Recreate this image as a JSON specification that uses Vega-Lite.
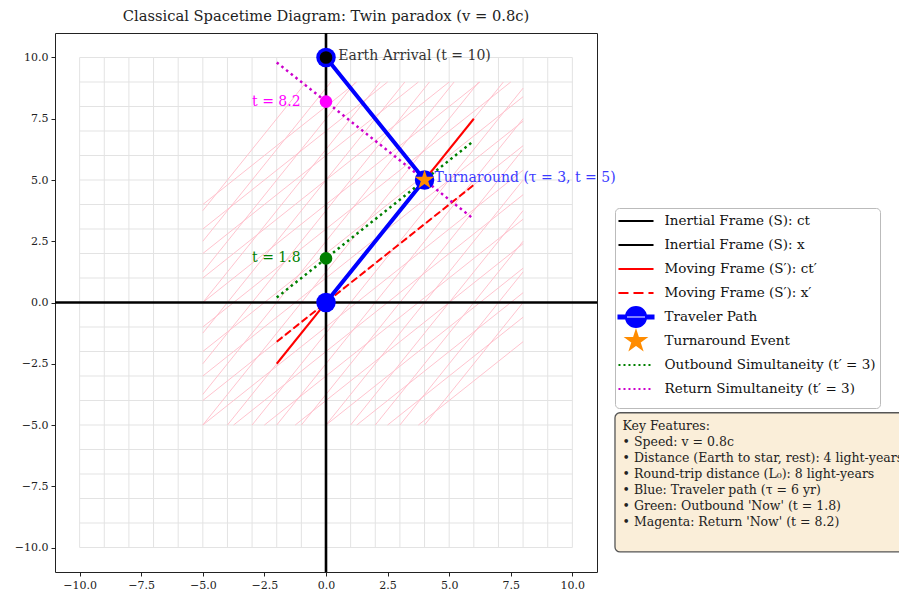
{
  "$schema": "https://vega.github.io/schema/vega-lite/v6.json",
  "width": 542,
  "height": 539,
  "autosize": {"type": "none"},
  "padding": {"left": 55, "top": 33, "right": 302, "bottom": 22},
  "background": "white",
  "config": {
    "view": {"stroke": "#222222", "strokeWidth": 1},
    "font": "DejaVu Serif"
  },
  "title": {
    "text": "Classical Spacetime Diagram: Twin paradox (v = 0.8c)",
    "font": "DejaVu Serif",
    "fontSize": 14.7,
    "fontWeight": "normal",
    "color": "#222222",
    "offset": 8
  },
  "datasets": {
    "grid": [
      {"x": -10, "y": -10, "x2": -10, "y2": 10}, {"x": -9, "y": -10, "x2": -9, "y2": 10},
      {"x": -8, "y": -10, "x2": -8, "y2": 10}, {"x": -7, "y": -10, "x2": -7, "y2": 10},
      {"x": -6, "y": -10, "x2": -6, "y2": 10}, {"x": -5, "y": -10, "x2": -5, "y2": 10},
      {"x": -4, "y": -10, "x2": -4, "y2": 10}, {"x": -3, "y": -10, "x2": -3, "y2": 10},
      {"x": -2, "y": -10, "x2": -2, "y2": 10}, {"x": -1, "y": -10, "x2": -1, "y2": 10},
      {"x": 0, "y": -10, "x2": 0, "y2": 10}, {"x": 1, "y": -10, "x2": 1, "y2": 10},
      {"x": 2, "y": -10, "x2": 2, "y2": 10}, {"x": 3, "y": -10, "x2": 3, "y2": 10},
      {"x": 4, "y": -10, "x2": 4, "y2": 10}, {"x": 5, "y": -10, "x2": 5, "y2": 10},
      {"x": 6, "y": -10, "x2": 6, "y2": 10}, {"x": 7, "y": -10, "x2": 7, "y2": 10},
      {"x": 8, "y": -10, "x2": 8, "y2": 10}, {"x": 9, "y": -10, "x2": 9, "y2": 10},
      {"x": 10, "y": -10, "x2": 10, "y2": 10},
      {"x": -10, "y": -10, "x2": 10, "y2": -10}, {"x": -10, "y": -9, "x2": 10, "y2": -9},
      {"x": -10, "y": -8, "x2": 10, "y2": -8}, {"x": -10, "y": -7, "x2": 10, "y2": -7},
      {"x": -10, "y": -6, "x2": 10, "y2": -6}, {"x": -10, "y": -5, "x2": 10, "y2": -5},
      {"x": -10, "y": -4, "x2": 10, "y2": -4}, {"x": -10, "y": -3, "x2": 10, "y2": -3},
      {"x": -10, "y": -2, "x2": 10, "y2": -2}, {"x": -10, "y": -1, "x2": 10, "y2": -1},
      {"x": -10, "y": 0, "x2": 10, "y2": 0}, {"x": -10, "y": 1, "x2": 10, "y2": 1},
      {"x": -10, "y": 2, "x2": 10, "y2": 2}, {"x": -10, "y": 3, "x2": 10, "y2": 3},
      {"x": -10, "y": 4, "x2": 10, "y2": 4}, {"x": -10, "y": 5, "x2": 10, "y2": 5},
      {"x": -10, "y": 6, "x2": 10, "y2": 6}, {"x": -10, "y": 7, "x2": 10, "y2": 7},
      {"x": -10, "y": 8, "x2": 10, "y2": 8}, {"x": -10, "y": 9, "x2": 10, "y2": 9},
      {"x": -10, "y": 10, "x2": 10, "y2": 10}
    ],
    "pink": [
      {"x": -5, "y": 3.75, "x2": -0.8, "y2": 9},
      {"x": -5, "y": 2.5, "x2": 0.2, "y2": 9},
      {"x": -5, "y": 1.25, "x2": 1.2, "y2": 9},
      {"x": -5, "y": 0, "x2": 2.2, "y2": 9},
      {"x": -5, "y": -1.25, "x2": 3.2, "y2": 9},
      {"x": -5, "y": -2.5, "x2": 4.2, "y2": 9},
      {"x": -5, "y": -3.75, "x2": 5.2, "y2": 9},
      {"x": -5, "y": -5, "x2": 6.2, "y2": 9},
      {"x": -4, "y": -5, "x2": 7.2, "y2": 9},
      {"x": -3, "y": -5, "x2": 8, "y2": 8.75},
      {"x": -2, "y": -5, "x2": 8, "y2": 7.5},
      {"x": -1, "y": -5, "x2": 8, "y2": 6.25},
      {"x": 0, "y": -5, "x2": 8, "y2": 5},
      {"x": 1, "y": -5, "x2": 8, "y2": 3.75},
      {"x": 2, "y": -5, "x2": 8, "y2": 2.5},
      {"x": 3, "y": -5, "x2": 8, "y2": 1.25},
      {"x": 4, "y": -5, "x2": 8, "y2": 0},
      {"x": -5, "y": 4, "x2": 1.25, "y2": 9},
      {"x": -5, "y": 3, "x2": 2.5, "y2": 9},
      {"x": -5, "y": 2, "x2": 3.75, "y2": 9},
      {"x": -5, "y": 1, "x2": 5, "y2": 9},
      {"x": -5, "y": 0, "x2": 6.25, "y2": 9},
      {"x": -5, "y": -1, "x2": 7.5, "y2": 9},
      {"x": -5, "y": -2, "x2": 8, "y2": 8.4},
      {"x": -5, "y": -3, "x2": 8, "y2": 7.4},
      {"x": -5, "y": -4, "x2": 8, "y2": 6.4},
      {"x": -5, "y": -5, "x2": 8, "y2": 5.4},
      {"x": -3.75, "y": -5, "x2": 8, "y2": 4.4},
      {"x": -2.5, "y": -5, "x2": 8, "y2": 3.4},
      {"x": -1.25, "y": -5, "x2": 8, "y2": 2.4},
      {"x": 0, "y": -5, "x2": 8, "y2": 1.4},
      {"x": 1.25, "y": -5, "x2": 8, "y2": 0.4},
      {"x": 2.5, "y": -5, "x2": 8, "y2": -0.6},
      {"x": 3.75, "y": -5, "x2": 8, "y2": -1.6}
    ],
    "segments": [
      {"name": "x_axis", "x": -11, "y": 0, "x2": 11, "y2": 0},
      {"name": "t_axis", "x": 0, "y": -11, "x2": 0, "y2": 11},
      {"name": "ct_prime", "x": -2, "y": -2.5, "x2": 6, "y2": 7.5},
      {"name": "x_prime", "x": -2, "y": -1.6, "x2": 6, "y2": 4.8},
      {"name": "outbound", "x": -2, "y": 0.2, "x2": 6, "y2": 6.6},
      {"name": "return", "x": -2, "y": 9.8, "x2": 6, "y2": 3.4}
    ],
    "path": [
      {"step": 0, "x": 0, "y": 0},
      {"step": 1, "x": 4, "y": 5},
      {"step": 2, "x": 0, "y": 10}
    ],
    "now": [
      {"name": "outbound", "x": 0, "y": 1.8},
      {"name": "return", "x": 0, "y": 8.2}
    ],
    "notes": [
      {"name": "earth", "x": 0.5, "y": 10, "label": "Earth Arrival (t = 10)"},
      {"name": "turn", "x": 4.4, "y": 5, "label": "Turnaround (τ = 3, t = 5)"},
      {"name": "t82", "x": -3, "y": 8.2, "label": "t = 8.2"},
      {"name": "t18", "x": -3, "y": 1.8, "label": "t = 1.8"}
    ],
    "keybox": [
      {"x": 11.73, "y": -4.5, "x2": 24, "y2": -10.18}
    ],
    "keytext": [
      {"x": 12.04, "y": -4.78}
    ]
  },
  "encoding": {
    "x": {
      "field": "x", "type": "quantitative",
      "scale": {"domain": [-11, 11], "nice": false, "zero": false},
      "axis": {"values": [-10, -7.5, -5, -2.5, 0, 2.5, 5, 7.5, 10], "format": ".1f", "title": null, "grid": false, "domain": false, "tickColor": "#222222", "tickSize": 4, "labelFont": "DejaVu Serif", "labelFontSize": 11, "labelColor": "#222222", "labelPadding": 3}
    },
    "y": {
      "field": "y", "type": "quantitative",
      "scale": {"domain": [-11, 11], "nice": false, "zero": false},
      "axis": {"values": [-10, -7.5, -5, -2.5, 0, 2.5, 5, 7.5, 10], "format": ".1f", "title": null, "grid": false, "domain": false, "tickColor": "#222222", "tickSize": 4, "labelFont": "DejaVu Serif", "labelFontSize": 11, "labelColor": "#222222", "labelPadding": 3}
    }
  },
  "layer": [
    {
      "data": {"name": "grid"},
      "mark": {"type": "rule", "color": "#e3e3e3", "strokeWidth": 1},
      "encoding": {"x2": {"field": "x2"}, "y2": {"field": "y2"}}
    },
    {
      "data": {"name": "pink"},
      "mark": {"type": "rule", "color": "#ffc0cb", "strokeWidth": 1, "opacity": 0.95},
      "encoding": {"x2": {"field": "x2"}, "y2": {"field": "y2"}}
    },
    {
      "data": {"name": "segments"},
      "transform": [{"filter": "datum.name === 'x_axis' || datum.name === 't_axis'"}],
      "mark": {"type": "rule", "color": "#000000", "strokeWidth": 2.6},
      "encoding": {"x2": {"field": "x2"}, "y2": {"field": "y2"}}
    },
    {
      "data": {"name": "segments"},
      "transform": [{"filter": "datum.name === 'ct_prime'"}],
      "mark": {"type": "rule", "color": "#ff0000", "strokeWidth": 2},
      "encoding": {"x2": {"field": "x2"}, "y2": {"field": "y2"}}
    },
    {
      "data": {"name": "segments"},
      "transform": [{"filter": "datum.name === 'x_prime'"}],
      "mark": {"type": "rule", "color": "#ff0000", "strokeWidth": 2, "strokeDash": [7.4, 3.2]},
      "encoding": {"x2": {"field": "x2"}, "y2": {"field": "y2"}}
    },
    {
      "data": {"name": "path"},
      "mark": {"type": "line", "color": "#0000ff", "strokeWidth": 4},
      "encoding": {"order": {"field": "step", "type": "quantitative"}}
    },
    {
      "data": {"name": "segments"},
      "transform": [{"filter": "datum.name === 'outbound'"}],
      "mark": {"type": "rule", "color": "#008000", "strokeWidth": 2.5, "strokeDash": [2.5, 3.5]},
      "encoding": {"x2": {"field": "x2"}, "y2": {"field": "y2"}}
    },
    {
      "data": {"name": "segments"},
      "transform": [{"filter": "datum.name === 'return'"}],
      "mark": {"type": "rule", "color": "#cc00cc", "strokeWidth": 2.5, "strokeDash": [2.5, 3.5]},
      "encoding": {"x2": {"field": "x2"}, "y2": {"field": "y2"}}
    },
    {
      "data": {"name": "path"},
      "mark": {"type": "point", "shape": "circle", "filled": true, "color": "#0000ff", "opacity": 1, "size": 380}
    },
    {
      "data": {"name": "path"},
      "transform": [{"filter": "datum.step === 2"}],
      "mark": {"type": "point", "shape": "circle", "filled": true, "color": "#000000", "opacity": 1, "size": 160}
    },
    {
      "data": {"name": "path"},
      "transform": [{"filter": "datum.step === 1"}],
      "mark": {"type": "point", "shape": "M0,-1L0.2245,-0.309L0.9511,-0.309L0.3633,0.118L0.5878,0.809L0,0.382L-0.5878,0.809L-0.3633,0.118L-0.9511,-0.309L-0.2245,-0.309Z", "filled": true, "color": "#ff8c00", "opacity": 1, "size": 420}
    },
    {
      "data": {"name": "now"},
      "transform": [{"filter": "datum.name === 'outbound'"}],
      "mark": {"type": "point", "shape": "circle", "filled": true, "color": "#008000", "opacity": 1, "size": 160}
    },
    {
      "data": {"name": "now"},
      "transform": [{"filter": "datum.name === 'return'"}],
      "mark": {"type": "point", "shape": "circle", "filled": true, "color": "#ff00ff", "opacity": 1, "size": 160}
    },
    {
      "data": {"name": "notes"},
      "transform": [{"filter": "datum.name === 'earth'"}],
      "mark": {"type": "text", "align": "left", "baseline": "middle", "font": "DejaVu Serif", "fontSize": 14, "color": "#333333", "dy": -2},
      "encoding": {"text": {"field": "label"}}
    },
    {
      "data": {"name": "notes"},
      "transform": [{"filter": "datum.name === 'turn'"}],
      "mark": {"type": "text", "align": "left", "baseline": "middle", "font": "DejaVu Serif", "fontSize": 14, "color": "#3a3aff", "dy": -2},
      "encoding": {"text": {"field": "label"}}
    },
    {
      "data": {"name": "notes"},
      "transform": [{"filter": "datum.name === 't82'"}],
      "mark": {"type": "text", "align": "left", "baseline": "middle", "font": "DejaVu Serif", "fontSize": 14, "color": "#ff00ff"},
      "encoding": {"text": {"field": "label"}}
    },
    {
      "data": {"name": "notes"},
      "transform": [{"filter": "datum.name === 't18'"}],
      "mark": {"type": "text", "align": "left", "baseline": "middle", "font": "DejaVu Serif", "fontSize": 14, "color": "#008000"},
      "encoding": {"text": {"field": "label"}}
    },
    {
      "data": {"name": "keybox"},
      "mark": {"type": "rect", "fill": "#faeed9", "stroke": "#555555", "strokeWidth": 1.3, "cornerRadius": 5},
      "encoding": {"x2": {"field": "x2"}, "y2": {"field": "y2"}}
    },
    {
      "data": {"name": "keytext"},
      "mark": {"type": "text", "text": ["Key Features:", "• Speed: v = 0.8c", "• Distance (Earth to star, rest): 4 light-years", "• Round-trip distance (L₀): 8 light-years", "• Blue: Traveler path (τ = 6 yr)", "• Green: Outbound 'Now' (t = 1.8)", "• Magenta: Return 'Now' (t = 8.2)"], "align": "left", "baseline": "top", "font": "DejaVu Serif", "fontSize": 12.5, "lineHeight": 16, "color": "#222222"}
    },
    {
      "data": {"values": [
        {"series": "Inertial Frame (S): ct"},
        {"series": "Inertial Frame (S): x"},
        {"series": "Moving Frame (S′): ct′"},
        {"series": "Moving Frame (S′): x′"},
        {"series": "Traveler Path"},
        {"series": "Turnaround Event"},
        {"series": "Outbound Simultaneity (t′ = 3)"},
        {"series": "Return Simultaneity (t′ = 3)"}
      ]},
      "transform": [{"filter": "datum.series === 'none'"}],
      "mark": {"type": "point", "opacity": 1, "strokeWidth": 2},
      "encoding": {
        "fill": {
          "field": "series", "type": "nominal",
          "scale": {"domain": ["Inertial Frame (S): ct", "Inertial Frame (S): x", "Moving Frame (S′): ct′", "Moving Frame (S′): x′", "Traveler Path", "Turnaround Event", "Outbound Simultaneity (t′ = 3)", "Return Simultaneity (t′ = 3)"],
                    "range": ["#000000", "#000000", "#ff0000", "#ff0000", "#0000ff", "#ff8c00", "#008000", "#cc00cc"]},
          "legend": {"title": null, "orient": "none", "legendX": 560, "legendY": 175, "labelFont": "DejaVu Serif", "labelFontSize": 13.5, "labelColor": "#111111", "labelLimit": 400, "labelOffset": 27.5, "symbolSize": 256, "symbolStrokeWidth": 2, "rowPadding": -7.8, "padding": 4, "fillColor": "white", "strokeColor": "#bbbbbb", "cornerRadius": 4}
        },
        "stroke": {
          "field": "series", "type": "nominal",
          "scale": {"domain": ["Inertial Frame (S): ct", "Inertial Frame (S): x", "Moving Frame (S′): ct′", "Moving Frame (S′): x′", "Traveler Path", "Turnaround Event", "Outbound Simultaneity (t′ = 3)", "Return Simultaneity (t′ = 3)"],
                    "range": ["#000000", "#000000", "#ff0000", "#ff0000", "#0000ff", "#ff8c00", "#008000", "#cc00cc"]},
          "legend": {"title": null, "orient": "none", "legendX": 560, "legendY": 175, "labelFont": "DejaVu Serif", "labelFontSize": 13.5, "labelColor": "#111111", "labelLimit": 400, "labelOffset": 27.5, "symbolSize": 256, "symbolStrokeWidth": 2, "rowPadding": -7.8, "padding": 4, "fillColor": "white", "strokeColor": "#bbbbbb", "cornerRadius": 4}
        },
        "shape": {
          "field": "series", "type": "nominal",
          "scale": {"domain": ["Inertial Frame (S): ct", "Inertial Frame (S): x", "Moving Frame (S′): ct′", "Moving Frame (S′): x′", "Traveler Path", "Turnaround Event", "Outbound Simultaneity (t′ = 3)", "Return Simultaneity (t′ = 3)"],
                    "range": [
                      "M-1.19,-1.26M3.19,1.26M-1.19,0H3.19",
                      "M-1.19,-1.26M3.19,1.26M-1.19,0H3.19",
                      "M-1.19,-1.26M3.19,1.26M-1.19,0H3.19",
                      "M-1.19,-1.26M3.19,1.26M-1.19,0H0.06M0.685,0H1.935M2.56,0H3.19",
                      "M-1.19,-1.26M3.19,1.26M-1.19,-0.2H3.19V0.2H-1.19ZM-0.26,0A1.26,1.26 0 1,0 2.26,0A1.26,1.26 0 1,0 -0.26,0Z",
                      "M-1.19,-1.26M3.19,1.26M1,-1.22L1.274,-0.377L2.16,-0.377L1.443,0.144L1.717,0.987L1,0.466L0.283,0.987L0.557,0.144L-0.16,-0.377L0.726,-0.377Z",
                      "M-1.19,-1.26M3.19,1.26M-1.19,0h0.25M-0.565,0h0.25M0.06,0h0.25M0.685,0h0.25M1.31,0h0.25M1.935,0h0.25M2.56,0h0.25",
                      "M-1.19,-1.26M3.19,1.26M-1.19,0h0.25M-0.565,0h0.25M0.06,0h0.25M0.685,0h0.25M1.31,0h0.25M1.935,0h0.25M2.56,0h0.25"
                    ]},
          "legend": {"title": null, "orient": "none", "legendX": 560, "legendY": 175, "labelFont": "DejaVu Serif", "labelFontSize": 13.5, "labelColor": "#111111", "labelLimit": 400, "labelOffset": 27.5, "symbolSize": 256, "symbolStrokeWidth": 2, "rowPadding": -7.8, "padding": 4, "fillColor": "white", "strokeColor": "#bbbbbb", "cornerRadius": 4}
        }
      }
    }
  ]
}
